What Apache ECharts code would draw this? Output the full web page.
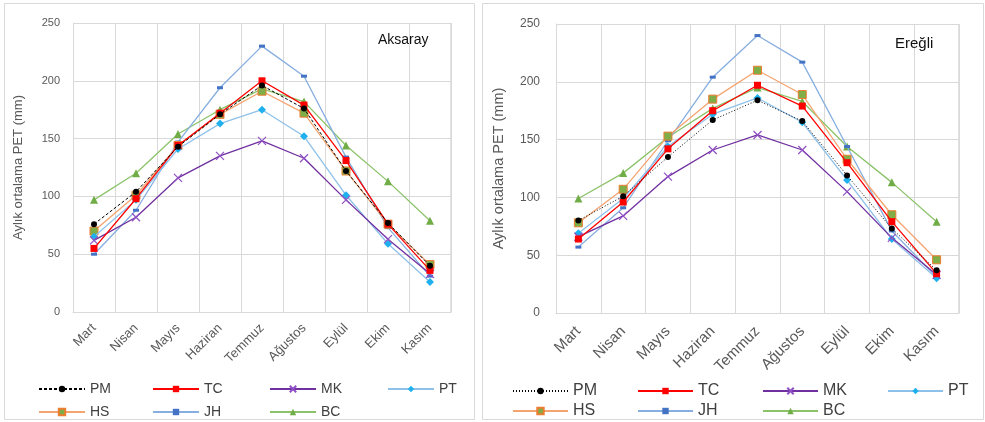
<!DOCTYPE html>
<html>
<head>
<meta charset="utf-8">
<script src="https://cdn.jsdelivr.net/npm/echarts@6/dist/echarts.min.js"></script>
<style>
html,body{margin:0;padding:0;background:#fff;}
#c1{position:absolute;left:0;top:0;width:478px;height:422px;}
#c2{position:absolute;left:478px;top:0;width:507px;height:422px;}
</style>
</head>
<body>
<div id="c1"></div>
<div id="c2"></div>
<script>
// ---- data ----
const categories = ['Mart','Nisan','Mayıs','Haziran','Temmuz','Ağustos','Eylül','Ekim','Kasım'];
const yTicks = [0, 50, 100, 150, 200, 250];
const seriesNames = ['PM','TC','MK','PT','HS','JH','BC'];
const yAxisTitle = 'Aylık ortalama PET (mm)';

// Aksaray
const aksarayPM = [76, 104, 143, 171, 196, 176, 122, 77, 40];
const aksarayTC = [55, 98, 144, 172, 200, 179, 131, 76, 36];
const aksarayMK = [62, 82, 116, 135, 148, 133, 97, 63, 33];
const aksarayPT = [65, 97, 141, 163, 175, 152, 101, 59, 26];
const aksarayHS = [70, 101, 144, 171, 191, 172, 122, 76, 41];
const aksarayJH = [50, 88, 147, 194, 230, 204, 134, 73, 31];
const aksarayBC = [97, 120, 154, 175, 193, 182, 144, 113, 79];

// Ereğli
const ereqliPM = [80, 101, 135, 167, 184, 166, 119, 73, 37];
const ereqliTC = [64, 96, 142, 175, 197, 179, 130, 79, 34];
const ereqliMK = [66, 84, 118, 141, 154, 141, 105, 65, 33];
const ereqliPT = [69, 99, 144, 172, 186, 165, 115, 64, 30];
const ereqliHS = [78, 107, 153, 185, 210, 189, 133, 85, 46];
const ereqliJH = [57, 91, 149, 204, 240, 217, 144, 71, 31];
const ereqliBC = [99, 121, 152, 177, 195, 183, 144, 113, 79];

// ---- styles ----
const crossPath = 'path://M0,0L10,10M10,0L0,10';
function styleFor(name, pmDash) {
  switch (name) {
    case 'PM': return {line:{color:'#000', width:1, type:pmDash}, symbol:'circle', size:6, item:{color:'#000'}};
    case 'TC': return {line:{color:'#FF0000', width:1.3}, symbol:'rect', size:7, item:{color:'#FF0000'}};
    case 'MK': return {line:{color:'#7030A0', width:1.3}, symbol:crossPath, size:8, item:{color:'none', borderColor:'#8E4FC4', borderWidth:1.2}};
    case 'PT': return {line:{color:'#8EC1EA', width:1.3}, symbol:'diamond', size:8, item:{color:'#1FB0EE'}};
    case 'HS': return {line:{color:'#F4A470', width:1.3}, symbol:'rect', size:8, item:{color:'#7FAE48', borderColor:'#ED7D31', borderWidth:1}};
    case 'JH': return {line:{color:'#86AEE0', width:1.3}, symbol:'rect', size:[6,3], item:{color:'#4472C4'}};
    case 'BC': return {line:{color:'#8CC36A', width:1.3}, symbol:'triangle', size:8, item:{color:'#70AD47'}};
  }
}

function buildOption(cfg) {
  const series = seriesNames.map((n, i) => {
    const s = styleFor(n, cfg.pmDash);
    return {
      name: n, type: 'line', data: cfg.values[i],
      symbol: s.symbol, symbolSize: s.size, showAllSymbol: true,
      lineStyle: s.line, itemStyle: s.item,
      emphasis: {disabled: true}, animation: false, z: 10 - i
    };
  });
  const legends = seriesNames.map((n, i) => ({
    data: [n],
    left: cfg.legendX[i < 4 ? i : i - 4],
    top: i < 4 ? cfg.legendY[0] : cfg.legendY[1],
    itemWidth: cfg.legendIconW, itemHeight: 8, itemGap: 0,
    textStyle: {fontSize: cfg.legendFont, color: '#404040', fontFamily: 'Liberation Sans'},
    selectedMode: false
  }));
  return {
    backgroundColor: '#fff',
    animation: false,
    grid: {left: cfg.grid[0], top: cfg.grid[1], width: cfg.grid[2], height: cfg.grid[3], containLabel: false},
    xAxis: {
      type: 'category', data: categories, boundaryGap: true,
      axisLine: {show: true, lineStyle: {color: '#D9D9D9'}},
      axisTick: {show: false},
      splitLine: {show: true, lineStyle: {color: '#D9D9D9', width: 1}},
      axisLabel: {rotate: 45, margin: cfg.xMargin, fontSize: cfg.xFont, color: '#595959', fontFamily: 'Liberation Sans', interval: 0}
    },
    yAxis: {
      type: 'value', min: yTicks[0], max: yTicks[yTicks.length - 1], interval: yTicks[1] - yTicks[0],
      name: yAxisTitle, nameLocation: 'middle', nameGap: cfg.nameGap,
      nameTextStyle: {fontSize: cfg.nameFont, color: '#595959', fontFamily: 'Liberation Sans'},
      axisLine: {show: true, lineStyle: {color: '#D9D9D9'}},
      axisTick: {show: false},
      splitLine: {show: true, lineStyle: {color: '#D9D9D9', width: 1}},
      axisLabel: {margin: cfg.yMargin, fontSize: cfg.yFont, color: '#595959', fontFamily: 'Liberation Sans'}
    },
    legend: legends,
    graphic: [
      {type: 'rect', shape: {x: cfg.border[0], y: cfg.border[1], width: cfg.border[2], height: cfg.border[3]},
       style: {fill: 'none', stroke: '#D9D9D9', lineWidth: 1}, silent: true},
      {type: 'rect', shape: {x: cfg.grid[0] + cfg.grid[2], y: cfg.grid[1], width: 0, height: cfg.grid[3]},
       style: {fill: 'none', stroke: '#D9D9D9', lineWidth: 1}, silent: true},
      {type: 'text', left: cfg.title[1], top: cfg.title[2],
       style: {text: cfg.title[0], fontSize: cfg.titleFont, fill: '#111', fontFamily: 'Liberation Sans'}, z: 100}
    ],
    series: series
  };
}

const c1 = echarts.init(document.getElementById('c1'), null, {renderer: 'canvas'});
c1.setOption(buildOption({
  values: [aksarayPM, aksarayTC, aksarayMK, aksarayPT, aksarayHS, aksarayJH, aksarayBC],
  pmDash: [3, 2],
  grid: [73, 23, 378, 289],
  border: [4.5, 3.5, 470, 416],
  title: ['Aksaray', 378, 33], titleFont: 14,
  xFont: 13, xMargin: 14, yFont: 11, yMargin: 13, nameFont: 13, nameGap: 48,
  legendX: [33, 147, 264, 382], legendY: [377, 400], legendIconW: 46, legendFont: 14
}));

const c2 = echarts.init(document.getElementById('c2'), null, {renderer: 'canvas'});
c2.setOption(buildOption({
  values: [ereqliPM, ereqliTC, ereqliMK, ereqliPT, ereqliHS, ereqliJH, ereqliBC],
  pmDash: [1, 2],
  grid: [78, 24, 403, 289],
  border: [4.5, 3.5, 501, 416],
  title: ['Ereğli', 417, 36], titleFont: 15,
  xFont: 15, xMargin: 16, yFont: 12, yMargin: 16, nameFont: 14.5, nameGap: 50,
  legendX: [29, 154, 279, 404], legendY: [378, 398], legendIconW: 55, legendFont: 16
}));
</script>
</body>
</html>
